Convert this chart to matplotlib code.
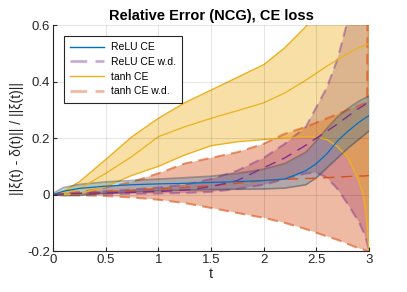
import matplotlib.pyplot as plt
from matplotlib.lines import Line2D

# time samples
t = [0, 0.1, 0.25, 0.5, 0.75, 1.0, 1.25, 1.5, 1.75, 2.0, 2.2, 2.4, 2.5, 2.6, 2.7, 2.8, 2.9, 2.95, 2.98, 3.0]

# ReLU CE
relu_mean = [0, 0.012, 0.022, 0.030, 0.035, 0.038, 0.040, 0.043, 0.046, 0.050, 0.055, 0.085, 0.110, 0.145, 0.190, 0.225, 0.255, 0.268, 0.275, 0.280]
relu_up = [0.004, 0.025, 0.036, 0.045, 0.050, 0.055, 0.060, 0.065, 0.075, 0.090, 0.110, 0.150, 0.190, 0.235, 0.275, 0.305, 0.330, 0.340, 0.345, 0.350]
relu_lo = [0, -0.004, -0.003, 0.005, 0.010, 0.014, 0.016, 0.018, 0.019, 0.020, 0.023, 0.035, 0.060, 0.095, 0.130, 0.165, 0.195, 0.210, 0.220, 0.225]

# ReLU CE w.d.
reluwd_mean = [0, 0.002, 0.004, 0.006, 0.008, 0.011, 0.016, 0.028, 0.050, 0.095, 0.130, 0.175, 0.200, 0.225, 0.250, 0.278, 0.305, 0.316, 0.325, 0.330]
reluwd_up = [0, 0.004, 0.008, 0.012, 0.018, 0.025, 0.035, 0.055, 0.085, 0.130, 0.180, 0.240, 0.310, 0.380, 0.480, 0.620, 0.800, 0.880, 0.950, 1.000]
reluwd_lo = [0, 0, 0.001, 0.002, 0.003, 0.004, 0.006, 0.010, 0.020, 0.035, 0.055, 0.075, 0.078, 0.060, 0.020, -0.035, -0.095, -0.135, -0.170, -0.200]

# tanh CE
tanh_mean = [0, 0.005, 0.020, 0.075, 0.135, 0.205, 0.240, 0.270, 0.297, 0.325, 0.360, 0.405, 0.430, 0.455, 0.478, 0.500, 0.520, 0.527, 0.532, 0.535]
tanh_up = [0, 0.012, 0.045, 0.124, 0.205, 0.270, 0.325, 0.370, 0.415, 0.460, 0.520, 0.595, 0.640, 0.700, 0.770, 0.850, 0.930, 0.970, 1.000, 1.020]
tanh_lo = [0, 0.0, 0.003, 0.028, 0.068, 0.100, 0.140, 0.173, 0.187, 0.195, 0.200, 0.205, 0.203, 0.195, 0.170, 0.130, 0.050, -0.010, -0.100, -0.220]

# tanh CE w.d.
tanhwd_mean = [0, 0.002, 0.005, 0.010, 0.015, 0.020, 0.025, 0.032, 0.040, 0.050, 0.054, 0.057, 0.058, 0.060, 0.062, 0.064, 0.066, 0.066, 0.067, 0.067]
tanhwd_up = [0, 0.004, 0.008, 0.025, 0.045, 0.075, 0.110, 0.130, 0.150, 0.180, 0.215, 0.240, 0.255, 0.270, 0.285, 0.300, 0.315, 0.322, 0.328, 2.0]
tanhwd_lo = [0, -0.001, -0.002, -0.005, -0.010, -0.018, -0.030, -0.047, -0.065, -0.082, -0.100, -0.122, -0.135, -0.148, -0.160, -0.175, -0.190, -0.195, -0.200, -2.0]

labels = ['ReLU CE', 'ReLU CE w.d.', 'tanh CE', 'tanh CE w.d.']
blue, purple, yellow, orange = '#0072BD', '#7E2F8E', '#EDB120', '#D95319'
dash = (0, (5, 3))

plt.rcParams['font.family'] = ['Liberation Sans', 'DejaVu Sans']

fig = plt.figure(figsize=(4.07, 2.92), dpi=100)
ax = fig.add_axes([0.130, 0.140, 0.777, 0.774])

# Полосы (порядок важен для смешивания цветов)
ax.fill_between(t, reluwd_lo, reluwd_up, color=purple, alpha=0.35, lw=0)
ax.fill_between(t, tanhwd_lo, tanhwd_up, color=orange, alpha=0.4, lw=0)
ax.fill_between(t, tanh_lo, tanh_up, color=yellow, alpha=0.4, lw=0)
ax.fill_between(t, relu_lo, relu_up, color=blue, alpha=0.25, lw=0)

# Границы полос
ax.plot(t, reluwd_up, color=purple, lw=1.5, ls=dash, alpha=0.45)
ax.plot(t, reluwd_lo, color=purple, lw=1.5, ls=dash, alpha=0.45)
ax.plot(t, tanhwd_up, color=orange, lw=1.5, ls=dash, alpha=0.6)
ax.plot(t, tanhwd_lo, color=orange, lw=1.5, ls=dash, alpha=0.6)
ax.plot(t, tanh_up, color=yellow, lw=1.0)
ax.plot(t, tanh_lo, color=yellow, lw=1.0)
ax.plot(t, relu_up, color='#404850', lw=1.2, alpha=0.45)
ax.plot(t, relu_lo, color='#404850', lw=1.2, alpha=0.45)

# Средние
ax.plot(t, tanh_mean, color=yellow, lw=0.9)
ax.plot(t, tanhwd_mean, color=orange, lw=1.0, ls=(0, (8, 5)))
ax.plot(t, reluwd_mean, color=purple, lw=1.0, ls=(0, (8, 5)))
ax.plot(t, relu_mean, color=blue, lw=0.9)

ax.set_xlim(0, 3)
ax.set_ylim(-0.2, 0.6)
ax.set_xticks([0, 0.5, 1, 1.5, 2, 2.5, 3])
ax.set_xticklabels(['0', '0.5', '1', '1.5', '2', '2.5', '3'])
ax.set_yticks([-0.2, 0, 0.2, 0.4, 0.6])
ax.set_yticklabels(['-0.2', '0', '0.2', '0.4', '0.6'])
ax.tick_params(direction='in', length=3, labelsize=9.5, color='#262626', labelcolor='#262626', pad=2)
ax.grid(True, color='k', alpha=0.12, lw=0.6)
ax.set_axisbelow(False)
for s in ['top', 'right']:
    ax.spines[s].set_visible(False)
for s in ['left', 'bottom']:
    ax.spines[s].set_color('#262626')
    ax.spines[s].set_linewidth(0.8)

ax.set_title('Relative Error (NCG), CE loss', fontsize=10.5, fontweight='bold', pad=4)
ax.set_xlabel('t', fontsize=10.5, labelpad=1, color='#262626')
ax.set_ylabel('||ξ(t) - δ(t)|| / ||ξ(t)||', fontsize=10, labelpad=2, color='#262626')

handles = [
    Line2D([], [], color=blue, lw=1.0),
    Line2D([], [], color=purple, lw=2.0, alpha=0.4, ls=(0, (6, 3))),
    Line2D([], [], color=yellow, lw=1.0),
    Line2D([], [], color=orange, lw=2.0, alpha=0.4, ls=(0, (6, 3))),
]
leg = ax.legend(handles, labels, loc='upper left', bbox_to_anchor=(0.035, 0.951), borderaxespad=0,
                fontsize=7.5, handlelength=3.2, handletextpad=0.7, labelspacing=0.45,
                fancybox=False, framealpha=1, edgecolor='#262626', borderpad=0.6)
leg.get_frame().set_linewidth(0.8)

fig.savefig('out.png', dpi=100)
